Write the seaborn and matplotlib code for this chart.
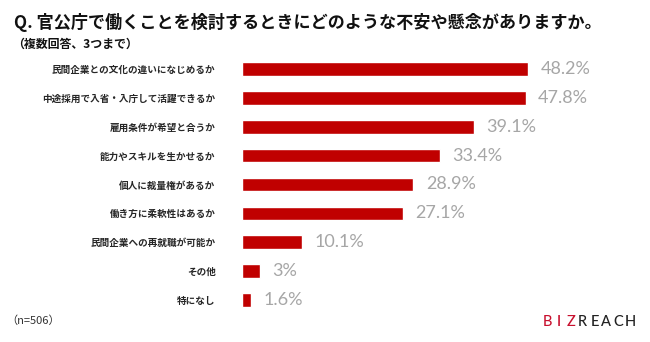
import matplotlib
matplotlib.use("Agg")
import matplotlib.pyplot as plt
import seaborn as sns
import pandas as pd

categories = [
    "民間企業との文化の違いになじめるか",
    "中途採用で入省・入庁して活躍できるか",
    "雇用条件が希望と合うか",
    "能力やスキルを生かせるか",
    "個人に裁量権があるか",
    "働き方に柔軟性はあるか",
    "民間企業への再就職が可能か",
    "その他",
    "特になし",
]
values = [48.2, 47.8, 39.1, 33.4, 28.9, 27.1, 10.1, 3, 1.6]
value_labels = [f"{v:g}%" for v in values]

title = "Q. 官公庁で働くことを検討するときにどのような不安や懸念がありますか。"
subtitle = "（複数回答、3つまで）"
note = "（n=506）"
logo_red = "BIZ"
logo_dark = "REACH"

sns.set_theme(style="white")
plt.rcParams["font.family"] = ["Noto Sans CJK JP", "DejaVu Sans"]

df = pd.DataFrame({"cat": categories, "val": values})

fig = plt.figure(figsize=(6.5, 3.42), dpi=100)
ax = fig.add_axes([242 / 650, 0.0807, (598 - 242) / 650, 0.8404 - 0.0807])
sns.barplot(data=df, y="cat", x="val", orient="h", color="#c00000",
            saturation=1, width=0.47, ax=ax)
ax.set_xlim(0, 60)
ax.set_ylim(8.5, -0.5)
ax.set_xlabel("")
ax.set_ylabel("")
ax.set_xticks([])
sns.despine(ax=ax, left=True, bottom=True)
ax.tick_params(axis="y", length=0, pad=19)
for t in ax.get_yticklabels():
    t.set_fontsize(6.9)
    t.set_fontweight("bold")
    t.set_color("#262626")

ax.bar_label(ax.containers[0], labels=value_labels, padding=9,
             fontsize=13, color="#a6a6a6", family=["Lato", "DejaVu Sans"])

fig.text(14 / 650, 1 - 22 / 342, title, fontsize=12.3, fontweight="bold",
         color="#111111", va="center", ha="left")
fig.text(12 / 650, 1 - 44 / 342, subtitle, fontsize=8.6, fontweight="bold",
         color="#111111", va="center", ha="left")
fig.text(6 / 650, 1 - 321 / 342, note, fontsize=8, color="#333333",
         va="center", ha="left")

# logo, letter-spaced
x0, step = 541, 11.9
for i, ch in enumerate(logo_red + logo_dark):
    col = "#c8102e" if i < len(logo_red) else "#222222"
    fig.text((x0 + (i + 0.5) * step) / 650, 1 - 321.5 / 342, ch, fontsize=10.5,
             color=col, va="center", ha="center",
             family=["Lato", "DejaVu Sans"], fontweight="medium")

fig.savefig("out.png", dpi=100)
